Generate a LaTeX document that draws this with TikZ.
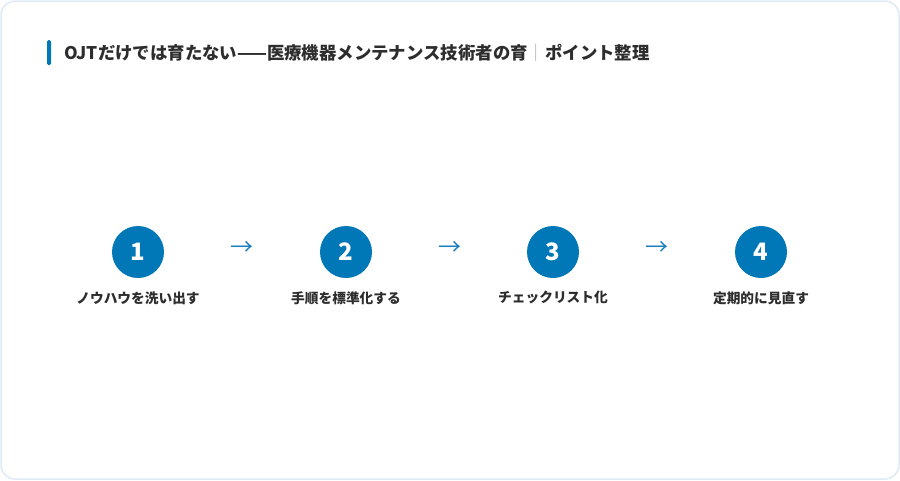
\documentclass[tikz,border=0pt]{standalone}
\usepackage{fontspec}
\setmainfont{Noto Sans CJK JP}
\usepackage{tikz}
\usetikzlibrary{positioning,calc}
\definecolor{stepblue}{RGB}{0,119,182}
\definecolor{arrowblue}{RGB}{30,128,190}
\definecolor{framecol}{RGB}{222,234,246}
\definecolor{inkgray}{RGB}{45,45,45}
\definecolor{sepgray}{RGB}{170,170,170}

\begin{document}
\begin{tikzpicture}[x=1pt,y=-1pt,
    stepcircle/.style={circle,fill=stepblue,text=white,minimum size=52pt,
                       inner sep=0pt,font=\fontsize{24}{24}\selectfont\bfseries},
    steplabel/.style={text=inkgray,inner sep=0pt,
                      font=\fontsize{13.7}{14}\selectfont\bfseries},
    arrowtxt/.style={text=arrowblue,inner sep=0pt,font=\fontsize{23}{23}\selectfont}]
  % card
  \useasboundingbox (0,0) rectangle (900,480);
  \draw[framecol,line width=1.5pt,rounded corners=14pt] (1,1) rectangle (899,479);
  % heading
  \fill[stepblue,rounded corners=1.5pt] (47,40) rectangle (51,65);
  \node[anchor=west,inner sep=0pt,text=inkgray,
        font=\fontsize{17.4}{17}\selectfont\bfseries] (title) at (64,53)
    {OJTだけでは育たない——医療機器メンテナンス技術者の育\textcolor{sepgray}{\mdseries｜}ポイント整理};
  % steps
  \foreach \i/\x/\txt in {1/138/ノウハウを洗い出す, 2/346/手順を標準化する,
                          3/553/チェックリスト化, 4/761/定期的に見直す}{
    \node[stepcircle] (s\i) at (\x,252) {\i};
    \node[steplabel,below=13pt of s\i] (l\i) {\txt};
  }
  \foreach \a/\b in {1/2,2/3,3/4}
    \node[arrowtxt] (a\a) at ($(s\a)!0.5!(s\b)+(0,-4)$) {→};
\end{tikzpicture}
\end{document}
